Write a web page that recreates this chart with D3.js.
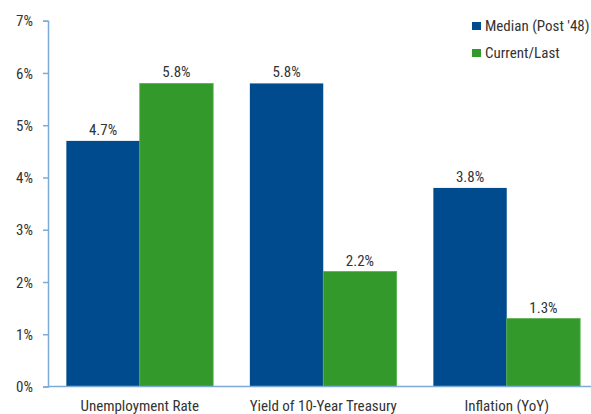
<!DOCTYPE html>
<html><head><meta charset="utf-8">
<script src="https://cdn.jsdelivr.net/npm/d3@7"></script>
<style>
html,body{margin:0;padding:0;background:#fff;}
text{font-family:"Liberation Sans Narrow","Arial Narrow","Roboto Condensed",sans-serif;fill:#333;}
</style></head>
<body><svg id="c" width="591" height="414"></svg>
<script>
const categories = ["Unemployment Rate", "Yield of 10-Year Treasury", "Inflation (YoY)"];
const seriesNames = ["Median (Post '48)", "Current/Last"];
const medianValues = [4.7, 5.8, 3.8];
const currentValues = [5.8, 2.2, 1.3];
const yTicks = [0, 1, 2, 3, 4, 5, 6, 7];
const colors = ["#004b8d", "#33992a"];

const svg = d3.select("#c");
const y = d3.scaleLinear().domain([0, 7]).range([386.5, 20.7]);
const x0 = d3.scaleBand().domain(categories).range([48, 598.5]).paddingInner(0.2).paddingOuter(0.1);
const x1 = d3.scaleBand().domain(seriesNames).range([0, x0.bandwidth()]);

const data = categories.map((c, i) => ({cat: c, vals: [medianValues[i], currentValues[i]]}));

const g = svg.selectAll("g.grp").data(data).enter().append("g")
  .attr("transform", d => `translate(${x0(d.cat)},0)`);
g.selectAll("rect").data(d => d.vals.map((v, j) => ({v, j}))).enter().append("rect")
  .attr("x", d => x1(seriesNames[d.j]))
  .attr("y", d => y(d.v))
  .attr("width", x1.bandwidth())
  .attr("height", d => y(0) - y(d.v))
  .attr("fill", d => colors[d.j])
  .attr("stroke", d => d.j === 1 ? "#5bb04e" : "none")
  .attr("stroke-width", 0.8);
g.selectAll("text.val").data(d => d.vals.map((v, j) => ({v, j}))).enter().append("text")
  .attr("class", "val")
  .attr("x", d => x1(seriesNames[d.j]) + x1.bandwidth() / 2)
  .attr("y", d => y(d.v) - 6)
  .attr("text-anchor", "middle")
  .attr("font-size", 15)
  .text(d => d.v.toFixed(1) + "%");

// y axis
const yAxis = d3.axisLeft(y).tickValues(yTicks).tickFormat(d => d + "%").tickSize(5).tickPadding(10);
const ya = svg.append("g").attr("transform", "translate(48,0)").call(yAxis);
ya.select(".domain").attr("stroke", "#7eaad6").attr("stroke-width", 1.5);
ya.selectAll(".tick line").attr("stroke", "#7eaad6").attr("stroke-width", 1.5);
ya.selectAll(".tick text").attr("font-size", 15).attr("fill", "#333").attr("dy", "0.35em");
ya.attr("font-family", null);

// x axis baseline
const xAxis = d3.axisBottom(x0).tickSize(0).tickPadding(14);
const xa = svg.append("g").attr("transform", `translate(0,${y(0)})`).call(xAxis);
xa.select(".domain").attr("d", `M48,0H591`).attr("stroke", "#7eaad6").attr("stroke-width", 1.5);
xa.selectAll(".tick text").attr("font-size", 15).attr("fill", "#333").attr("dy", "0.71em");
xa.attr("font-family", null);

// legend
const lg = svg.append("g").selectAll("g").data(seriesNames).enter().append("g")
  .attr("transform", (d, i) => `translate(472,${22 + i * 27})`);
lg.append("rect").attr("width", 9).attr("height", 8).attr("fill", (d, i) => colors[i]);
lg.append("text").attr("x", 13).attr("y", 9).attr("font-size", 15).text(d => d);
</script></body></html>
